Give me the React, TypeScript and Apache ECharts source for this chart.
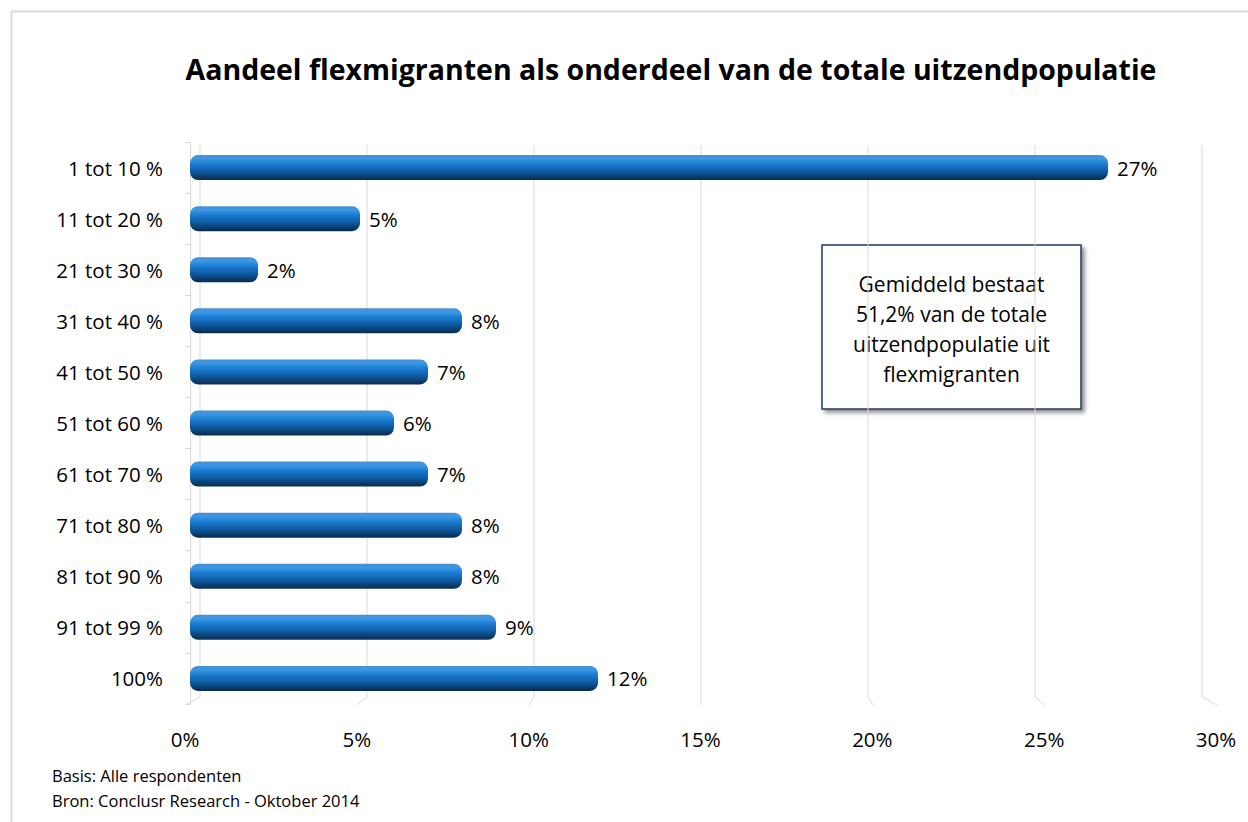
import React, { useEffect, useRef } from "react";
import * as echarts from "echarts";

const categories = [
  "1 tot 10 %",
  "11 tot 20 %",
  "21 tot 30 %",
  "31 tot 40 %",
  "41 tot 50 %",
  "51 tot 60 %",
  "61 tot 70 %",
  "71 tot 80 %",
  "81 tot 90 %",
  "91 tot 99 %",
  "100%",
];
const values = [27, 5, 2, 8, 7, 6, 7, 8, 8, 9, 12];
const tickValues = [0, 5, 10, 15, 20, 25, 30];

const titleText = "Aandeel flexmigranten als onderdeel van de totale uitzendpopulatie";
const noteText = "Gemiddeld bestaat\n51,2% van de totale\nuitzendpopulatie uit\nflexmigranten";
const footer1 = "Basis: Alle respondenten";
const footer2 = "Bron: Conclusr Research - Oktober 2014";

const FONT = "'Open Sans', 'Noto Sans', sans-serif";

export default function App() {
  const ref = useRef<HTMLDivElement>(null);
  useEffect(() => {
    if (!ref.current) return;
    const chart = echarts.init(ref.current, null, { renderer: "svg" });
    const barGradient = new echarts.graphic.LinearGradient(0, 0, 0, 1, [
      { offset: 0, color: "#4a8fcf" },
      { offset: 0.15, color: "#3a98e6" },
      { offset: 0.35, color: "#1c7dd2" },
      { offset: 0.62, color: "#0f5fa8" },
      { offset: 0.85, color: "#0a4072" },
      { offset: 1, color: "#0a2b4e" },
    ]);
    chart.setOption({
      animation: false,
      backgroundColor: "#ffffff",
      textStyle: { fontFamily: FONT },
      title: {
        text: titleText,
        left: 666,
        textAlign: "center",
        top: 49,
        textStyle: { fontSize: 28.5, fontWeight: "bold", color: "#000", fontFamily: FONT },
      },
      grid: [
        { left: 190, width: 1020, top: 142, height: 562 },
        { left: 200, width: 1002, top: 145, height: 552 },
        { left: 185, width: 1031, top: 142, height: 562 },
      ],
      xAxis: [
        {
          type: "value",
          gridIndex: 0,
          min: 0,
          max: 30,
          interval: 5,
          axisLine: { show: false },
          axisTick: { show: false },
          splitLine: { show: false },
          axisLabel: { show: false },
        },
        {
          type: "value",
          gridIndex: 1,
          min: 0,
          max: 30,
          interval: 5,
          show: false,
        },
        {
          type: "value",
          gridIndex: 2,
          min: 0,
          max: 30,
          interval: 5,
          axisLine: { show: false },
          axisTick: { show: false },
          splitLine: { show: false },
          axisLabel: {
            formatter: "{value}%",
            fontSize: 20.5,
            color: "#000",
            margin: 24,
            fontFamily: FONT,
          },
        },
      ],
      yAxis: [
        {
          type: "category",
          gridIndex: 0,
          data: categories,
          inverse: true,
          offset: 5,
          axisLine: { show: true, lineStyle: { color: "#d9d9d9", width: 1 } },
          axisTick: { show: true, length: 5, lineStyle: { color: "#d9d9d9" } },
          axisLabel: { fontSize: 20.5, color: "#000", margin: 22, fontFamily: FONT },
        },
        {
          type: "value",
          gridIndex: 1,
          min: 0,
          max: 1,
          show: false,
        },
        {
          type: "value",
          gridIndex: 2,
          min: 0,
          max: 1,
          show: false,
        },
      ],
      series: [
        {
          type: "custom",
          xAxisIndex: 1,
          yAxisIndex: 1,
          z: 0,
          silent: true,
          data: tickValues,
          renderItem: (params: any, api: any) => {
            const v = api.value(0);
            const top = api.coord([v, 1]);
            const bot = api.coord([v, 0]);
            const dx = ((v - 15) / 15) * 15;
            return {
              type: "polyline",
              shape: {
                points: [
                  [top[0], top[1]],
                  [bot[0], bot[1]],
                  [bot[0] + dx, bot[1] + 8],
                ],
              },
              style: { stroke: "#d9d9d9", lineWidth: 1, fill: null },
            };
          },
        },
        {
          type: "bar",
          xAxisIndex: 0,
          yAxisIndex: 0,
          z: 2,
          data: values,
          barWidth: 25,
          itemStyle: { color: barGradient, borderRadius: 8 },
          label: {
            show: true,
            position: "right",
            distance: 9,
            formatter: "{c}%",
            fontSize: 20.5,
            color: "#000",
            fontFamily: FONT,
          },
        },
      ],
      graphic: [
        {
          type: "rect",
          z: -10,
          silent: true,
          shape: { x: 11.5, y: 11.5, width: 1260, height: 830 },
          style: { fill: "none", stroke: "#d9d9d9", lineWidth: 2 },
        },
        {
          type: "group",
          z: 10,
          children: [
            {
              type: "rect",
              shape: { x: 822, y: 245, width: 259, height: 164 },
              style: {
                fill: "#ffffff",
                stroke: "#1f3864",
                lineWidth: 1.5,
                shadowBlur: 4,
                shadowOffsetX: 3,
                shadowOffsetY: 3,
                shadowColor: "rgba(0,0,0,0.45)",
              },
            },
            {
              type: "text",
              x: 951.5,
              y: 329,
              style: {
                text: noteText,
                fontSize: 21,
                lineHeight: 30,
                fill: "#000",
                align: "center",
                verticalAlign: "middle",
                fontFamily: FONT,
              },
            },
          ],
        },
        {
          type: "text",
          left: 52,
          top: 767,
          style: { text: footer1, fontSize: 16.5, fill: "#000", fontFamily: FONT },
        },
        {
          type: "text",
          left: 52,
          top: 792,
          style: { text: footer2, fontSize: 16.5, fill: "#000", fontFamily: FONT },
        },
      ],
    });
    return () => chart.dispose();
  }, []);
  return (
    <div
      ref={ref}
      style={{ position: "fixed", left: 0, top: 0, width: 1248, height: 822 }}
    />
  );
}
